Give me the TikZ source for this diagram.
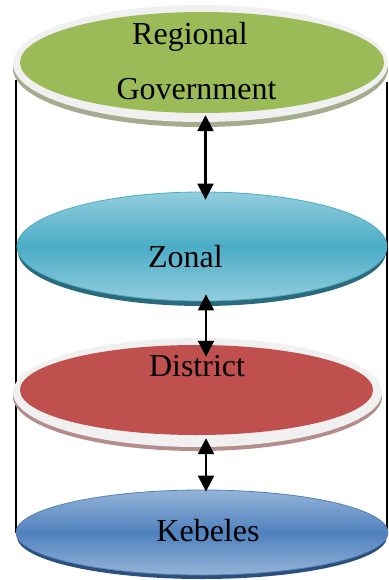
\documentclass[tikz,border=0pt]{standalone}
\usepackage{fontspec}
\setmainfont{Liberation Serif}
\usetikzlibrary{arrows.meta,positioning,calc,shapes.geometric}
\definecolor{rimgray}{HTML}{F0F0F0}
\definecolor{govgreen}{HTML}{9BBB59}
\definecolor{govshade}{HTML}{A3AD8E}
\definecolor{zonlight}{HTML}{93CDDD}
\definecolor{zonmid}{HTML}{4BACC6}
\definecolor{zondark}{HTML}{2B6A7C}
\definecolor{distred}{HTML}{C0504D}
\definecolor{distshade}{HTML}{B48C8C}
\definecolor{keblight}{HTML}{95B3D7}
\definecolor{kebmid}{HTML}{4F81BD}
\definecolor{kebdark}{HTML}{2C4F7C}

\begin{document}
\begin{tikzpicture}[
    x=1pt, y=-1pt,
    disk/.style={ellipse, inner sep=0pt, draw=none},
    lvltext/.style={font=\fontsize{32}{36}\selectfont, anchor=base, inner sep=0pt},
    link/.style={{Triangle[width=16pt,length=16pt]}-{Triangle[width=16pt,length=16pt]}, line width=2.2pt, black},
    side/.style={line width=1.3pt, black}
]
\useasboundingbox (0,0) rectangle (388,580);

% cylinder sides
\coordinate (lefttop) at (16,80);
\coordinate (leftbot) at (16,533);
\coordinate (righttop) at (387,82);
\coordinate (rightbot) at (387,533);
\draw[side] (lefttop) -- (leftbot);
\draw[side] (righttop) -- (rightbot);

% Regional Government
\node[disk, fill=govshade, minimum width=375pt, minimum height=117pt] (regional-shade) at (200.5,68.5) {};
\node[disk, fill=rimgray, minimum width=375pt, minimum height=117pt] (regional-rim) at (200.5,63.5) {};
\node[disk, fill=govgreen, minimum width=364pt, minimum height=101pt] (regional) at (202,62.5) {};
\node[lvltext] (regional-l1) at (190,45) {Regional};
\node[lvltext] (regional-l2) at (196.5,100) {Government};

% Zonal
\node[disk, fill=zondark, minimum width=368pt, minimum height=109pt] (zonal-shade) at (202,251.5) {};
\node[disk, draw=zonmid, line width=0.8pt, top color=zonlight, bottom color=zonlight, middle color=zonmid,
      minimum width=370pt, minimum height=109pt] (zonal) at (202,246.5) {};
\node[lvltext] (zonal-l) at (185.5,267) {Zonal};

% District
\node[disk, fill=distshade, minimum width=369pt, minimum height=109pt] (district-shade) at (197.5,396.5) {};
\node[disk, fill=rimgray, minimum width=369pt, minimum height=109pt] (district-rim) at (197.5,392.5) {};
\node[disk, fill=distred, minimum width=353pt, minimum height=90pt] (district) at (196.5,390) {};
\node[lvltext] (district-l) at (197,376) {District};

% Kebeles
\node[disk, fill=kebdark, minimum width=370pt, minimum height=85pt] (kebeles-shade) at (202,536.5) {};
\node[disk, draw=kebmid, line width=0.8pt, top color=keblight, bottom color=keblight, middle color=kebmid,
      minimum width=372pt, minimum height=85pt] (kebeles) at (202,532.5) {};
\node[lvltext] (kebeles-l) at (208,541.5) {Kebeles};

% arrows
\draw[link, shorten <=2pt, shorten >=-8pt] ([xshift=3.5pt]regional.south) -- ([xshift=3.5pt]zonal.north);
\draw[link, shorten <=-7pt, shorten >=-12pt] ([xshift=4pt]zonal.south) -- ([xshift=9.5pt]district.north);
\draw[link, shorten <=3pt, shorten >=-2pt] ([xshift=9.5pt]district.south) -- ([xshift=4pt]kebeles.north);
\end{tikzpicture}
\end{document}
